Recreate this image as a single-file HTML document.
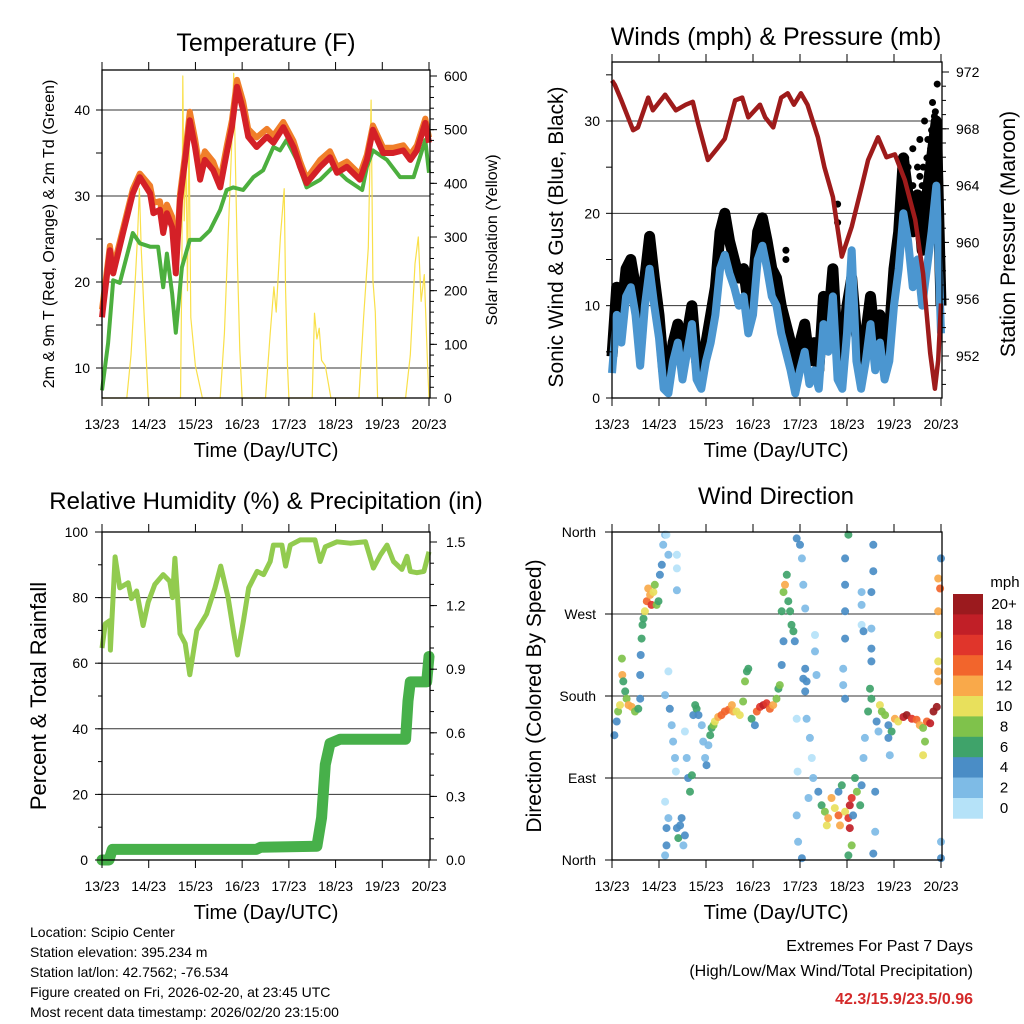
<!DOCTYPE html>
<html><head><meta charset="utf-8"><style>
html,body{margin:0;padding:0;background:#fff}
svg{display:block;font-family:"Liberation Sans",Arial,sans-serif}
</style></head><body>
<svg id="root" width="1024" height="1024" viewBox="0 0 1024 1024"></svg>
<script>
// ---------- DATA ----------
const dayLabels = ["13/23","14/23","15/23","16/23","17/23","18/23","19/23","20/23"];
const temp2m = [[0,15.9],[0.17,23.7],[0.24,21],[0.45,25.7],[0.66,30.3],[0.81,32.2],[1.03,30.3],[1.1,28],[1.24,28.4],[1.31,25.7],[1.39,28],[1.5,26.4],[1.58,21],[1.67,29.5],[1.78,34.2],[1.88,38.8],[1.99,35.7],[2.1,31.9],[2.2,34.2],[2.38,33],[2.53,31],[2.67,35],[2.78,38],[2.89,42.7],[3.02,40],[3.13,36.9],[3.31,35.7],[3.53,36.9],[3.67,36.2],[3.88,38],[4.1,35.7],[4.24,33.4],[4.38,31.5],[4.67,33.4],[4.88,34.5],[5.03,32.7],[5.24,33.4],[5.52,31.9],[5.67,34.2],[5.8,37.7],[6.02,35],[6.23,35],[6.45,35.3],[6.6,34.2],[6.74,35.3],[6.92,38.5],[7.0,36.2]];
const temp9m = [[0,16.8],[0.17,24.2],[0.24,21.6],[0.45,26.2],[0.66,30.8],[0.81,32.6],[1.03,31.2],[1.1,29.2],[1.24,29.4],[1.31,27.3],[1.39,29],[1.5,27.6],[1.58,22],[1.67,30.2],[1.78,35],[1.88,39.8],[1.99,36.7],[2.1,33],[2.2,35.2],[2.38,34],[2.53,31.8],[2.67,35.8],[2.78,38.8],[2.89,43.5],[3.02,41],[3.13,37.8],[3.31,36.8],[3.53,37.8],[3.67,37],[3.88,38.6],[4.1,36.4],[4.24,34],[4.38,32],[4.67,34.2],[4.88,35.2],[5.03,33.4],[5.24,34],[5.52,32.5],[5.67,34.8],[5.8,38.2],[6.02,35.6],[6.23,35.6],[6.45,35.9],[6.6,34.8],[6.74,35.9],[6.92,39],[7.0,36.8]];
const dewpoint = [[0,7.4],[0.13,12.9],[0.24,20.2],[0.38,19.9],[0.66,25.7],[0.81,24.5],[1.03,24.1],[1.2,24.1],[1.31,19.4],[1.39,23.3],[1.5,18.7],[1.58,14.1],[1.71,21.7],[1.88,24.9],[2.1,24.9],[2.31,26],[2.53,28.4],[2.67,30.7],[2.81,31],[3.02,30.7],[3.24,32.2],[3.45,33],[3.67,35.7],[3.81,35.3],[3.95,36.5],[4.17,34.2],[4.38,31],[4.67,31.9],[4.95,33.4],[5.24,31.9],[5.57,30.7],[5.67,33.4],[5.8,35.3],[6.1,34.2],[6.38,32.2],[6.67,32.2],[6.92,36.5],[7.0,32.7]];
const solar = [[0,0],[0.53,0],[0.62,80],[0.7,200],[0.76,300],[0.8,390],[0.84,280],[0.9,160],[0.99,0],[1.68,0],[1.71,250],[1.73,600],[1.76,330],[1.8,450],[1.83,200],[1.86,520],[1.9,150],[2.0,60],[2.15,0],[2.53,0],[2.62,120],[2.7,300],[2.78,480],[2.82,605],[2.86,420],[2.9,250],[2.95,90],[3.0,0],[3.5,0],[3.6,120],[3.68,207],[3.73,160],[3.82,300],[3.9,390],[3.93,200],[3.97,60],[4.0,0],[4.5,0],[4.55,158],[4.6,110],[4.65,130],[4.7,70],[4.78,60],[4.9,0],[5.5,0],[5.6,150],[5.7,280],[5.76,555],[5.8,220],[5.85,160],[5.9,0],[6.5,0],[6.6,80],[6.7,250],[6.77,300],[6.83,180],[6.9,230],[6.97,60],[7.0,0]];
const sonicWind = [[0,2.7],[0.1,9],[0.2,6],[0.3,11],[0.4,12],[0.5,9],[0.6,3.5],[0.7,10],[0.8,14],[0.9,10],[1.0,6.5],[1.1,1],[1.2,0.5],[1.3,4],[1.4,6],[1.5,2],[1.6,5],[1.7,8],[1.8,2],[1.9,1],[2.0,4],[2.1,6],[2.2,9],[2.3,14],[2.4,15.5],[2.5,13.5],[2.6,12],[2.7,10],[2.8,11],[2.9,7],[3.0,9],[3.1,15],[3.2,16.5],[3.3,14],[3.4,11],[3.5,10],[3.6,7],[3.7,5],[3.8,3],[3.9,0.5],[4.0,3],[4.1,5],[4.2,1.5],[4.3,3],[4.4,1],[4.5,8],[4.6,5],[4.7,11],[4.8,2],[4.9,1],[5.0,7],[5.1,16],[5.2,4],[5.3,1],[5.4,4],[5.5,8],[5.6,3],[5.7,6],[5.8,2],[5.9,4],[6.0,10],[6.1,14],[6.2,20],[6.3,17],[6.4,12],[6.5,15],[6.6,10],[6.7,14],[6.8,18],[6.9,23],[7.0,7]];
const gustWind = [[0,4.5],[0.1,12],[0.2,9],[0.3,14],[0.4,15],[0.5,12],[0.6,6],[0.7,13],[0.8,17.5],[0.9,13],[1.0,9],[1.1,3],[1.2,2],[1.3,6],[1.4,8],[1.5,4],[1.6,7],[1.7,10],[1.8,4],[1.9,3],[2.0,6],[2.1,9],[2.2,12],[2.3,18],[2.4,20],[2.5,17],[2.6,15],[2.7,13],[2.8,14],[2.9,10],[3.0,12],[3.1,18],[3.2,19.5],[3.3,17],[3.4,14],[3.5,13],[3.6,10],[3.7,8],[3.8,6],[3.9,3],[4.0,6],[4.1,8],[4.2,4],[4.3,6],[4.4,3],[4.5,11],[4.6,8],[4.7,14],[4.8,5],[4.9,4],[5.0,10],[5.1,13],[5.2,7],[5.3,4],[5.4,7],[5.5,11],[5.6,6],[5.7,9],[5.8,5],[5.9,7],[6.0,14],[6.1,18],[6.2,26],[6.3,22],[6.4,18],[6.5,22],[6.6,16],[6.7,22],[6.8,26],[6.9,30],[7.0,10]];
const gustExtra = [[6.2,24],[6.25,26],[6.3,22],[6.35,19],[6.4,27],[6.45,21],[6.5,25],[6.55,28],[6.6,23],[6.65,30],[6.7,26],[6.75,24],[6.8,29],[6.82,32],[6.85,27],[6.88,31],[6.9,25],[6.92,34],[6.95,28],[6.97,22],[6.5,18],[6.6,20],[6.7,17],[4.8,21],[4.8,19],[3.7,15],[3.7,16],[6.86,30.5],[6.78,27],[6.62,25],[6.3,25],[6.4,23],[6.55,24],[6.72,28],[6.9,29],[6.15,20],[6.25,21]];
const pressure = [[0,971.4],[0.06,971.1],[0.2,970],[0.45,967.9],[0.55,968.1],[0.77,970.2],[0.87,969.3],[1.13,970.4],[1.36,969.3],[1.57,969.7],[1.72,969.9],[1.83,968.4],[2.04,965.8],[2.26,966.7],[2.4,967.3],[2.62,970],[2.77,970.2],[2.9,968.8],[3.15,969.7],[3.26,968.8],[3.43,968.1],[3.6,970.2],[3.74,970.5],[3.87,969.7],[4.02,970.5],[4.16,969.7],[4.38,967.4],[4.52,965.3],[4.7,963.2],[4.89,959],[5.1,961.1],[5.31,963.9],[5.45,965.8],[5.66,967.4],[5.84,966],[6.02,966.2],[6.23,964.4],[6.45,961.6],[6.62,957.8],[6.77,952.2],[6.87,949.7],[6.94,951.7],[7.0,955.7]];
const relHumidity = [[0,64.6],[0.07,72],[0.17,73],[0.18,64],[0.28,92.4],[0.38,83],[0.56,84.5],[0.63,79.7],[0.74,82],[0.88,71.5],[0.99,78.6],[1.13,84],[1.31,87],[1.45,85],[1.51,80],[1.56,92],[1.67,69],[1.78,66],[1.88,56.5],[2.03,70],[2.24,75],[2.42,83],[2.54,89.6],[2.7,80],[2.81,70],[2.9,62.5],[3.03,73],[3.14,83],[3.32,88],[3.46,87],[3.6,91],[3.67,96],[3.85,96],[3.93,89.6],[4.03,96],[4.24,97.6],[4.56,97.6],[4.67,91],[4.78,95.5],[5.03,97],[5.31,96.6],[5.64,97],[5.81,89],[5.96,93],[6.1,96],[6.24,91],[6.42,88.6],[6.53,92.6],[6.6,88],[6.74,87.6],[6.89,88],[7.0,94]];
const precipTotal = [[0,0],[0.15,0],[0.22,0.05],[3.3,0.05],[3.4,0.06],[4.6,0.065],[4.7,0.2],[4.78,0.45],[4.88,0.55],[5.1,0.57],[6.5,0.57],[6.55,0.75],[6.6,0.84],[6.95,0.84],[7.0,0.96]];
const dirObs = [[0.05,137,4],[0.1,152,4],[0.13,163,9],[0.17,170,10],[0.21,221,8],[0.22,203,13],[0.24,196,6],[0.28,185,7],[0.31,177,8],[0.35,170,12],[0.42,168,12],[0.49,163,9],[0.56,166,7],
[0.6,177,4],[0.6,203,4],[0.61,225,4],[0.63,243,6],[0.65,258,7],[0.67,265,7],[0.7,273,10],[0.74,284,14],[0.77,298,12],[0.81,291,13],[0.84,280,16],[0.88,294,10],[0.91,302,8],[0.95,280,9],[0.99,284,7],[1.02,313,5],[1.06,324,4],[1.09,346,3],[1.13,357,2],[1.16,357,1],[1.2,335,2],
[1.13,181,2],[1.2,207,1],[1.23,166,4],[1.27,148,3],[1.3,130,2],[1.34,112,2],[1.36,97,1],[1.38,335,1],[1.38,320,1],[1.38,296,3],
[1.13,64,1],[1.16,35,5],[1.16,16,4],[1.13,5,2],[1.2,46,2],[1.38,35,4],[1.41,24,6],[1.45,38,5],[1.48,46,5],[1.52,16,3],[1.55,27,4],
[1.55,141,1],[1.59,112,2],[1.62,90,4],[1.66,75,7],[1.7,93,7],[1.73,159,5],[1.77,170,6],[1.8,166,7],[1.84,159,5],
[1.91,148,2],[1.94,130,2],[1.98,112,2],[2.01,104,4],[2.05,126,3],[2.09,137,7],[2.12,145,7],[2.16,148,9],[2.19,152,10],[2.26,157,13],[2.33,159,15],[2.4,163,15],[2.48,165,14],[2.55,170,12],[2.58,163,13],[2.65,163,11],[2.72,159,10],[2.79,174,8],[2.83,196,8],[2.87,207,7],[2.9,210,7],[2.97,155,6],[3.04,148,5],[3.08,163,15],[3.15,168,17],[3.22,170,18],[3.29,172,16],[3.36,166,14],[3.43,170,12],[3.5,177,8],[3.54,188,7],[3.57,192,8],
[3.61,273,7],[3.65,294,8],[3.68,302,12],[3.72,313,7],[3.75,284,7],[3.79,273,6],[3.82,258,6],[3.86,251,7],[3.89,240,5],[3.65,240,4],[3.61,214,4],
[3.93,353,4],[4.0,346,4],[4.04,331,3],[4.07,302,2],[4.11,276,2],[4.11,210,4],[4.14,196,5],[4.11,185,4],[4.07,199,4],
[3.93,155,1],[3.95,97,1],[3.93,49,3],[3.96,20,2],[4.04,2,4],
[4.14,155,2],[4.21,134,2],[4.25,112,1],[4.28,90,3],[4.18,68,3],[4.32,229,2],[4.35,203,2],[4.32,247,1],
[4.39,75,5],[4.46,60,7],[4.53,53,8],[4.57,38,11],[4.6,46,12],[4.67,68,13],[4.74,57,10],[4.82,49,14],[4.85,38,13],[4.82,75,4],[4.89,82,7],[4.96,53,10],[5.03,46,17],[5.06,60,19],[5.1,68,16],[5.06,35,18],[5.13,49,5],[5.1,16,8],[5.03,5,6],
[4.96,331,4],[4.96,302,4],[4.96,273,4],[4.96,243,4],[4.92,210,3],[4.92,192,3],[4.96,177,4],[5.03,357,6],
[5.17,90,6],[5.21,75,9],[5.28,60,6],[5.31,82,4],[5.35,112,3],[5.38,134,3],[5.31,294,3],[5.31,280,2],[5.31,258,1],[5.35,251,4],
[5.49,188,6],[5.52,177,7],[5.45,163,6],[5.52,232,4],[5.52,218,4],[5.52,294,4],[5.56,317,4],[5.56,346,4],[5.52,254,2],[5.6,75,4],[5.6,31,3],[5.56,7,4],
[5.63,152,4],[5.67,141,2],[5.7,170,10],[5.74,163,9],[5.81,159,8],[5.88,148,5],[5.95,141,6],[6.02,155,12],[6.09,152,10],[6.2,157,19],[6.27,159,20],[6.38,155,16],[6.48,154,14],[6.55,148,12],[6.62,145,9],[6.66,130,8],[6.7,152,15],[6.77,150,18],[6.84,163,20],[6.91,168,20],[6.62,115,10],[5.88,134,4],[5.91,115,2],
[6.94,309,12],[6.98,298,14],[6.94,273,13],[6.94,247,10],[6.94,218,10],[6.94,207,13],[6.94,196,12],[7.0,331,4],[7.0,20,3],[7.0,2,4]];
const speedBins = ["0","2","4","6","8","10","12","14","16","18","20+"];
const speedColors = ["#b5e2f8","#7ebbe6","#4a8dc6","#3fa36a","#7fc24b","#e8e05c","#f9a94a","#f2652c","#e0352b","#c11f27","#9b1a1e"];

// ---------- helpers ----------
const NS="http://www.w3.org/2000/svg";
const root=document.getElementById('root');
function mk(tag,attrs,parent){const e=document.createElementNS(NS,tag);for(const k in attrs)e.setAttribute(k,attrs[k]);(parent||root).appendChild(e);return e;}
function txt(s,x,y,size,anchor,parent,extra){const e=mk('text',Object.assign({x:x,y:y,'font-size':size,'text-anchor':anchor||'middle',fill:'#000'},extra||{}),parent);e.textContent=s;return e;}
function lin(d0,d1,p0,p1){return v=>p0+(v-d0)*(p1-p0)/(d1-d0);}
function pathOf(arr,xs,ys){return arr.map((p,i)=>(i?'L':'M')+xs(p[0]).toFixed(1)+' '+ys(p[1]).toFixed(1)).join(' ');}

function frame(g,L,T,R,B,xs){
  mk('rect',{x:L,y:T,width:R-L,height:B-T,fill:'none',stroke:'#000','stroke-width':1.3},g);
  for(let d=0;d<=7;d++){const x=xs(d);
    mk('line',{x1:x,y1:B,x2:x,y2:B+8,stroke:'#000','stroke-width':1},g);
    mk('line',{x1:x,y1:T,x2:x,y2:T-8,stroke:'#000','stroke-width':1},g);
    const t=txt(dayLabels[d],x,B+31,14,'middle',g);
    
    
  }
}
function yTicks(g,ys,from,to,step,side,edge,len){
  for(let v=from;v<=to+1e-9;v+=step){const y=ys(v);
    mk('line',{x1:edge,y1:y,x2:side<0?edge-len:edge+len,y2:y,stroke:'#000','stroke-width':1},g);}
}
function grid(g,ys,vals,L,R){vals.forEach(v=>mk('line',{x1:L,y1:ys(v),x2:R,y2:ys(v),stroke:'#333','stroke-width':1},g));}
function yLabels(g,ys,vals,labels,x,anchor){vals.forEach((v,i)=>{const t=txt(labels[i],x,ys(v)+5,14,anchor,g);
  
  });}
function rotLabel(g,s,x,y,size,name){const t=txt(s,x,y,size,'middle',g,{transform:`rotate(-90 ${x} ${y})`});
  
  }

// ---------- Panel 1: Temperature ----------
(function(){
  const g=mk('g',{});
  
  
  const L=102,T=70,R=430,B=398;
  const xs=lin(0,7,102,429), yL=lin(10,40,368,110), yR=lin(0,600,398,76);
  grid(g,yL,[10,20,30,40],L,R);
  const sol=mk('path',{d:pathOf(solar,xs,yR),fill:'none',stroke:'#f9e04a','stroke-width':1.2,'stroke-linejoin':'round'},g);
  
  
  const dp=mk('path',{d:pathOf(dewpoint,xs,yL),fill:'none',stroke:'#4caf3e','stroke-width':4,'stroke-linejoin':'round'},g);
  
  
  const o=mk('path',{d:pathOf(temp9m,xs,yL),fill:'none',stroke:'#f07f2a','stroke-width':6,'stroke-linejoin':'round'},g);
  
  
  const r=mk('path',{d:pathOf(temp2m,xs,yL),fill:'none',stroke:'#d42027','stroke-width':6,'stroke-linejoin':'round'},g);
  
  
  frame(g,L,T,R,B,xs);
  yTicks(g,yL,10,40,5,-1,L,6);
  yTicks(g,yR,0,600,20,1,R,4);yTicks(g,yR,0,600,100,1,R,7);
  yLabels(g,yL,[10,20,30,40],["10","20","30","40"],L-12,'end');
  yLabels(g,yR,[0,100,200,300,400,500,600],["0","100","200","300","400","500","600"],R+14,'start');
  const ti=txt('Temperature (F)',266,51,25,'middle',g);
  
  
  const xl=txt('Time (Day/UTC)',266,B+59,20,'middle',g);
  
  
  rotLabel(g,'2m & 9m T (Red, Orange) & 2m Td (Green)',54,234,16,'y-axis-title-left');
  rotLabel(g,'Solar Insolation (Yellow)',497,240,16,'y-axis-title-right');
})();

// ---------- Panel 2: Winds ----------
(function(){
  const g=mk('g',{});
  
  
  const L=612,T=62,R=942,B=398;
  const xs=lin(0,7,612,941), yL=lin(0,30,398,121), yR=lin(952,972,356,72);
  grid(g,yL,[10,20,30],L,R);
  const gl=mk('path',{d:pathOf(gustWind,xs,yL),fill:'none',stroke:'#000','stroke-width':11,'stroke-linejoin':'round'},g);
  
  
  gustExtra.forEach(p=>{const c=mk('circle',{cx:xs(p[0]),cy:yL(p[1]),r:3.5,fill:'#000'},g);
    
    });
  const bl=mk('path',{d:pathOf(sonicWind,xs,yL),fill:'none',stroke:'#4b96d0','stroke-width':8,'stroke-linejoin':'round'},g);
  
  
  const pl=mk('path',{d:pathOf(pressure,xs,yR),fill:'none',stroke:'#9e1b1b','stroke-width':4.5,'stroke-linejoin':'round'},g);
  
  
  frame(g,L,T,R,B,xs);
  yTicks(g,yL,0,35,5,-1,L,6);
  yTicks(g,yR,950,972,1,1,R,4);yTicks(g,yR,952,972,4,1,R,7);
  yLabels(g,yL,[0,10,20,30],["0","10","20","30"],L-12,'end');
  yLabels(g,yR,[952,956,960,964,968,972],["952","956","960","964","968","972"],R+14,'start');
  const ti=txt('Winds (mph) & Pressure (mb)',776,45,25,'middle',g);
  
  
  const xl=txt('Time (Day/UTC)',776,B+59,20,'middle',g);
  
  
  rotLabel(g,'Sonic Wind & Gust (Blue, Black)',563,237,21,'y-axis-title-left');
  rotLabel(g,'Station Pressure (Maroon)',1015,234,21,'y-axis-title-right');
})();

// ---------- Panel 3: RH & Precip ----------
(function(){
  const g=mk('g',{});
  
  
  const L=102,T=532,R=430,B=860;
  const xs=lin(0,7,102,429), yL=lin(0,100,860,532), yR=lin(0,1.5,860,542);
  grid(g,yL,[20,40,60,80],L,R);
  const rh=mk('path',{d:pathOf(relHumidity,xs,yL),fill:'none',stroke:'#92cb4f','stroke-width':5,'stroke-linejoin':'round'},g);
  
  
  const pr=mk('path',{d:pathOf(precipTotal,xs,yR),fill:'none',stroke:'#47b04a','stroke-width':11,'stroke-linejoin':'round','stroke-linecap':'round'},g);
  
  
  frame(g,L,T,R,B,xs);
  yTicks(g,yL,0,100,10,-1,L,4);yTicks(g,yL,0,100,20,-1,L,7);
  yTicks(g,yR,0,1.5,0.1,1,R,4);yTicks(g,yR,0,1.5,0.3,1,R,7);
  yLabels(g,yL,[0,20,40,60,80,100],["0","20","40","60","80","100"],L-14,'end');
  yLabels(g,yR,[0,0.3,0.6,0.9,1.2,1.5],["0.0","0.3","0.6","0.9","1.2","1.5"],R+16,'start');
  const ti=txt('Relative Humidity (%) & Precipitation (in)',266,509,24,'middle',g);
  
  
  const xl=txt('Time (Day/UTC)',266,B+59,20,'middle',g);
  
  
  rotLabel(g,'Percent & Total Rainfall',46,696,22,'y-axis-title-left');
})();

// ---------- Panel 4: Wind direction ----------
(function(){
  const g=mk('g',{});
  
  
  const L=612,T=532,R=942,B=860;
  const xs=lin(0,7,612,941), yD=lin(0,360,860,532);
  grid(g,yD,[90,180,270],L,R);
  dirObs.forEach(p=>{
    const bin=Math.min(10,Math.floor(p[2]/2));
    const c=mk('circle',{cx:xs(p[0]).toFixed(1),cy:yD(p[1]).toFixed(1),r:4,fill:speedColors[bin],'fill-opacity':0.92},g);
    
    
  });
  frame(g,L,T,R,B,xs);
  yTicks(g,yD,0,360,90,-1,L,7);
  yLabels(g,yD,[0,90,180,270,360],["North","East","South","West","North"],L-16,'end');
  const ti=txt('Wind Direction',776,504,24,'middle',g);
  
  
  const xl=txt('Time (Day/UTC)',776,B+59,20,'middle',g);
  
  
  rotLabel(g,'Direction (Colored By Speed)',541,696,21,'y-axis-title-left');
  const cb=mk('g',{},g);
  
  
  const top=594,h=20.4;
  for(let i=0;i<11;i++){const idx=10-i;
    const r=mk('rect',{x:953,y:top+i*h,width:30,height:h+0.3,fill:speedColors[idx]},cb);
    
    
    const t=txt(speedBins[idx],1004,top+i*h+15,15,'middle',cb);
    
    
  }
  const u=txt('mph',1005,587,15,'middle',cb);
  
  
})();

// ---------- Footer text ----------
(function(){
  const g=mk('g',{});
  
  
  const lines=["Location: Scipio Center","Station elevation: 395.234 m","Station lat/lon: 42.7562; -76.534","Figure created on Fri, 2026-02-20, at 23:45 UTC","Most recent data timestamp: 2026/02/20 23:15:00"];
  lines.forEach((s,i)=>{const t=txt(s,30,937+i*20,14,'start',g);
    
    });
  const e=mk('g',{});
  
  
  const a=txt('Extremes For Past 7 Days',973,951,16,'end',e);
  
  
  const b=txt('(High/Low/Max Wind/Total Precipitation)',973,976,16,'end',e);
  
  
  const c=txt('42.3/15.9/23.5/0.96',973,1004,16,'end',e,{fill:'#d42a2a','font-weight':'bold'});
  
  
})();
</script>
</body></html>
